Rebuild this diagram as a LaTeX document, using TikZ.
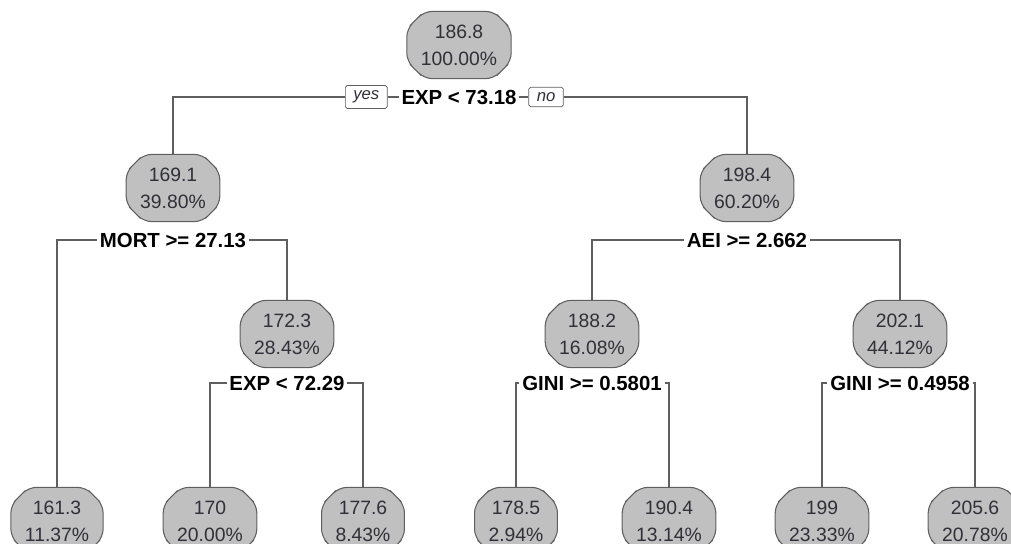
\documentclass[tikz,border=0pt]{standalone}
\usepackage{fontspec}
\setmainfont{Liberation Sans}
\usepackage{tikz}
\usetikzlibrary{positioning,shapes.misc}
\definecolor{BoxGray}{HTML}{C0C0C0}
\definecolor{LineGray}{HTML}{5F5F5F}
\definecolor{TextGray}{HTML}{303038}

\begin{document}
\begin{tikzpicture}[
  x=0.02cm, y=-0.02cm,
  treenode/.style={chamfered rectangle,chamfered rectangle xsep=5pt,chamfered rectangle ysep=5pt,
    rounded corners=4.5pt,draw=LineGray,fill=BoxGray,line width=0.6pt,text=TextGray,
    align=center,font=\fontsize{11}{15.5}\selectfont,inner xsep=3pt,inner ysep=2.5pt},
  splitlab/.style={font=\fontsize{11.6}{13}\selectfont\bfseries,inner xsep=1.5pt,inner ysep=1pt,text=black},
  yesno/.style={draw=LineGray,fill=white,rounded corners=1pt,font=\fontsize{9.5}{10}\selectfont\itshape,
    inner xsep=4.5pt,inner ysep=3pt,text=TextGray},
  edge/.style={draw=LineGray,line width=0.9pt}
]
\useasboundingbox (0,0) rectangle (1011,544);
\clip (0,0) rectangle (1011,544);

% Inner nodes
\node[treenode] (root) at (459,45) {186.8\\100.00\%};
\node[treenode] (n169) at (173,188) {169.1\\39.80\%};
\node[treenode] (n198) at (747,188) {198.4\\60.20\%};
\node[treenode] (n172) at (287,334) {172.3\\28.43\%};
\node[treenode] (n188) at (592,334) {188.2\\16.08\%};
\node[treenode] (n202) at (900,334) {202.1\\44.12\%};

% Leaves
\foreach \val/\pct/\x [count=\k] in {161.3/11.37/57, 170/20.00/210, 177.6/8.43/363,
    178.5/2.94/516, 190.4/13.14/669, 199/23.33/822, 205.6/20.78/975} {
  \node[treenode] (leaf\k) at (\x,521) {\val\\\pct\%};
}

% Split labels
\node[splitlab] (sroot) at (459,97) {EXP < 73.18};
\node[yesno,left=0.22cm of sroot] (yes) {yes};
\node[yesno,right=0.18cm of sroot] (no) {no};
\node[splitlab] (s169) at (173,240) {MORT >= 27.13};
\node[splitlab] (s198) at (747,240) {AEI >= 2.662};
\node[splitlab] (s172) at (287,383) {EXP < 72.29};
\node[splitlab] (s188) at (592,383) {GINI >= 0.5801};
\node[splitlab] (s202) at (900,383) {GINI >= 0.4958};

% Branches
\draw[edge] (n169.north) |- (yes.west);
\draw[edge] (yes.east) -- (sroot.west);
\draw[edge] (sroot.east) -- (no.west);
\draw[edge] (no.east) -| (n198.north);

\draw[edge] (leaf1.north) |- (s169.west);
\draw[edge] (n172.north) |- (s169.east);
\draw[edge] (n188.north) |- (s198.west);
\draw[edge] (n202.north) |- (s198.east);
\draw[edge] (leaf2.north) |- (s172.west);
\draw[edge] (leaf3.north) |- (s172.east);
\draw[edge] (leaf4.north) |- (s188.west);
\draw[edge] (leaf5.north) |- (s188.east);
\draw[edge] (leaf6.north) |- (s202.west);
\draw[edge] (leaf7.north) |- (s202.east);

\end{tikzpicture}
\end{document}
